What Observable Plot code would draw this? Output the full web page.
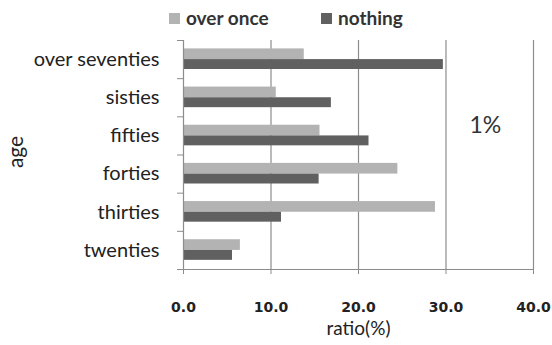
<!DOCTYPE html>
<html>
<head>
<meta charset="utf-8">
<script src="https://cdn.jsdelivr.net/npm/d3@7"></script>
<script src="https://cdn.jsdelivr.net/npm/@observablehq/plot@0.6"></script>
<style>
  html, body { margin: 0; padding: 0; background: #fff; }
  #wrap { position: relative; width: 552px; height: 345px; overflow: hidden; }
  #legend { position: absolute; left: 0; top: 0; width: 552px; height: 34px;
            font-family: Lato, "Open Sans", sans-serif; font-weight: bold; font-size: 19px; color: #333; }
  .item { position: absolute; top: 7px; display: flex; align-items: center; white-space: nowrap; line-height: 22px; }
  .sw { width: 11px; height: 11px; margin-right: 6px; }
</style>
</head>
<body>
<div id="wrap">
  <div id="chart"></div>
  <div id="legend"></div>
</div>
<script>
const ages = ["twenties", "thirties", "forties", "fifties", "sisties", "over seventies"];
const overOnce = [6.5, 28.8, 24.5, 15.6, 10.6, 13.8];
const nothing = [5.6, 11.2, 15.5, 21.2, 16.9, 29.7];
const seriesNames = ["over once", "nothing"];
const seriesColors = ["#b3b3b3", "#606060"];
const xTicks = [0, 10, 20, 30, 40];
const note = "1%";

const rows = ages.map((a, i) => ({age: a, i, overOnce: overOnce[i], nothing: nothing[i]}));
const font = "Lato, 'Open Sans', sans-serif";

const chart = Plot.plot({
  width: 552,
  height: 345,
  marginLeft: 183,
  marginRight: 19,
  marginTop: 40,
  marginBottom: 76,
  style: {fontFamily: font, background: "#fff", overflow: "visible"},
  x: {domain: [0, 40]},
  y: {domain: [0, ages.length]},
  marks: [
    Plot.ruleX(xTicks.slice(1), {stroke: "#8c8c8c", strokeWidth: 1.2}),
    Plot.rectX(rows, {x1: 0, x2: "overOnce", y1: d => d.i + 0.5, y2: d => d.i + 0.78, fill: seriesColors[0]}),
    Plot.rectX(rows, {x1: 0, x2: "nothing", y1: d => d.i + 0.24, y2: d => d.i + 0.5, fill: seriesColors[1]}),
    Plot.ruleX([0], {stroke: "#8c8c8c", strokeWidth: 1.2}),
    Plot.ruleY([0], {stroke: "#8c8c8c", strokeWidth: 1.2}),
    Plot.axisX({ticks: xTicks, tickFormat: d3.format(".1f"), tickSize: 5, tickPadding: 28,
      stroke: "#8c8c8c", fill: "#222", fontSize: 14, fontWeight: "bold", fontFamily: "DejaVu Sans",
      label: null}),
    Plot.text(["ratio(%)"], {frameAnchor: "bottom", lineAnchor: "middle", dy: 59, fontSize: 19, fill: "#222", fontFamily: font}),
    Plot.axisY({ticks: d3.range(ages.length + 1), tickSize: 6, stroke: "#8c8c8c", text: null, label: null}),
    Plot.axisY({ticks: ages.map((a, i) => i + 0.5), tickFormat: v => ages[Math.floor(v)], tickSize: 0,
      tickPadding: 24, fontSize: 20, fill: "#222", label: null}),
    Plot.text(["age"], {x: -19.1, y: 3.08, rotate: -90, fontSize: 21, fill: "#222"}),
    Plot.text([note], {x: 34.5, y: 3.78, fontSize: 23, fill: "#333", fontFamily: font})
  ]
});
document.getElementById("chart").appendChild(chart);

const legend = document.getElementById("legend");
const lefts = [169, 321];
seriesNames.forEach((s, k) => {
  const it = document.createElement("div");
  it.className = "item";
  it.style.left = lefts[k] + "px";
  it.innerHTML = `<span class="sw" style="background:${seriesColors[k]}"></span><span>${s}</span>`;
  legend.appendChild(it);
});
</script>
</body>
</html>
